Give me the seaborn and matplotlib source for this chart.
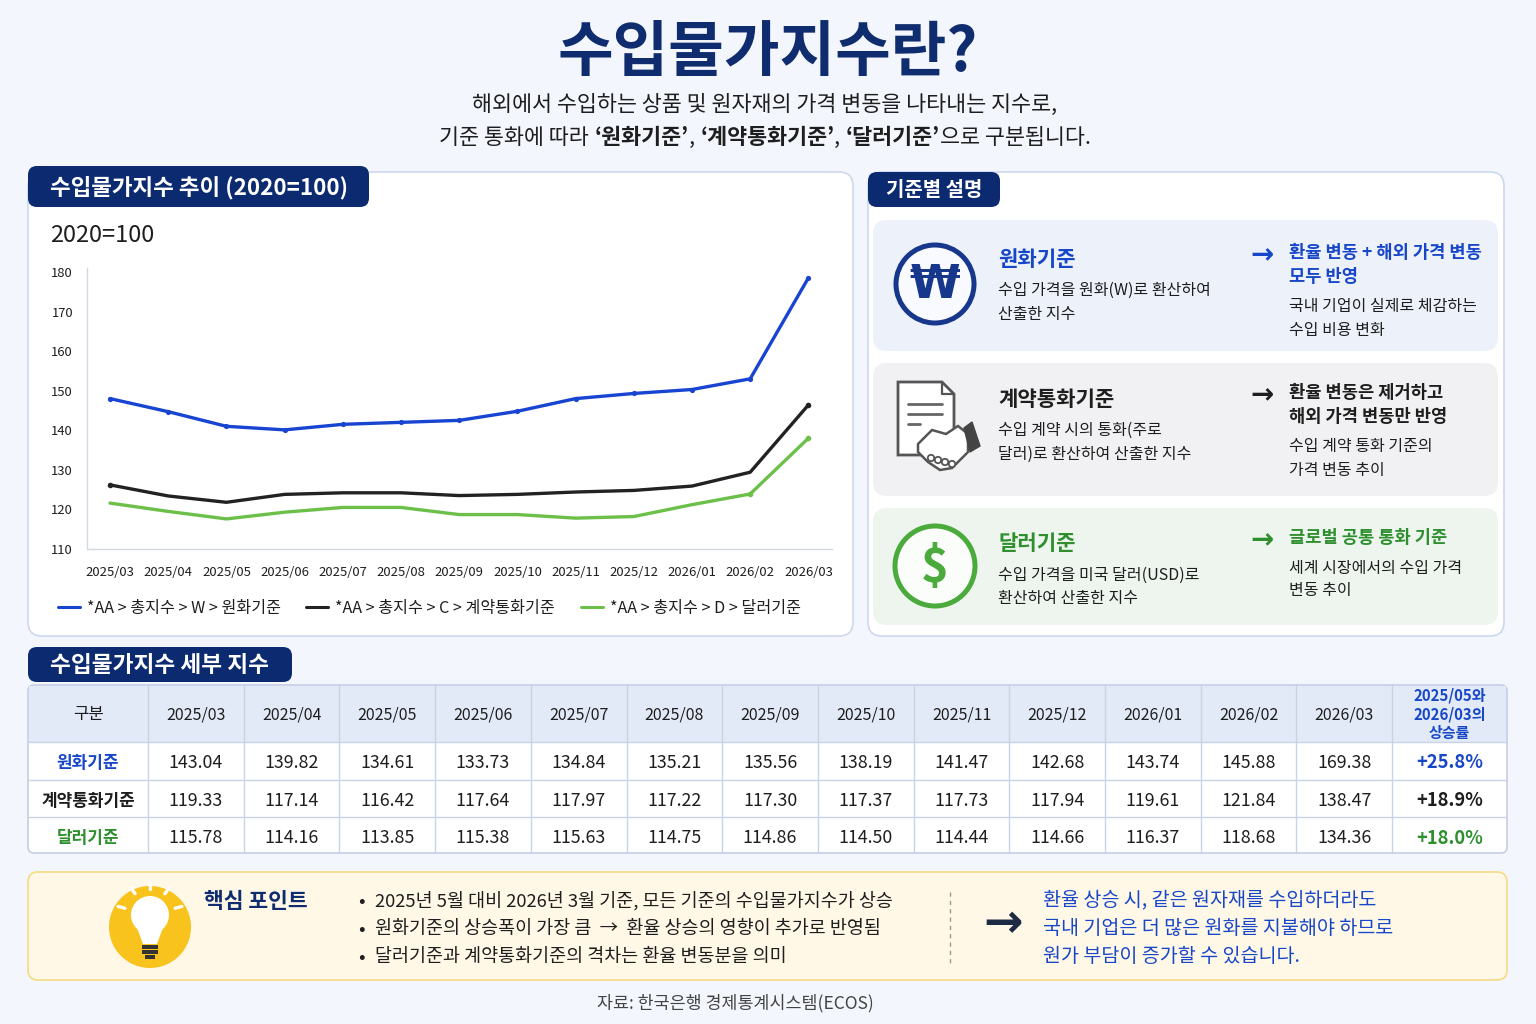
import numpy as np
import pandas as pd
import matplotlib
matplotlib.use("Agg")
import matplotlib.pyplot as plt
import seaborn as sns
from matplotlib.patches import FancyBboxPatch, Circle, Polygon, Rectangle

# ---------------- data ----------------
months = ['2025/03', '2025/04', '2025/05', '2025/06', '2025/07', '2025/08', '2025/09',
          '2025/10', '2025/11', '2025/12', '2026/01', '2026/02', '2026/03']
chart_won = [148.0, 144.7, 141.0, 140.1, 141.5, 142.0, 142.5, 144.8, 148.0, 149.3, 150.3, 153.0, 178.5]
chart_contract = [126.2, 123.4, 121.8, 123.8, 124.2, 124.2, 123.5, 123.8, 124.4, 124.8, 125.9, 129.4, 146.4]
chart_dollar = [121.6, 119.5, 117.6, 119.3, 120.5, 120.5, 118.7, 118.7, 117.8, 118.2, 121.2, 123.9, 138.0]
legend_labels = ['*AA > 총지수 > W > 원화기준', '*AA > 총지수 > C > 계약통화기준', '*AA > 총지수 > D > 달러기준']
y_ticks = [110, 120, 130, 140, 150, 160, 170, 180]

row_names = ['원화기준', '계약통화기준', '달러기준']
table_won = [143.04, 139.82, 134.61, 133.73, 134.84, 135.21, 135.56, 138.19, 141.47, 142.68, 143.74, 145.88, 169.38]
table_contract = [119.33, 117.14, 116.42, 117.64, 117.97, 117.22, 117.30, 117.37, 117.73, 117.94, 119.61, 121.84, 138.47]
table_dollar = [115.78, 114.16, 113.85, 115.38, 115.63, 114.75, 114.86, 114.50, 114.44, 114.66, 116.37, 118.68, 134.36]
changes = ['+25.8%', '+18.9%', '+18.0%']

# ---------------- style ----------------
sns.set_theme(style="white")
plt.rcParams['font.family'] = ['Noto Sans CJK KR', 'DejaVu Sans']
plt.rcParams['axes.unicode_minus'] = False

NAVY = '#0f2c6e'
TAB = '#0b2a70'
BLUE = '#1747c8'
LINE_BLUE = '#1744d0'
GREEN = '#2f8f2f'
ICON_GREEN = '#4aaa3c'
LINE_GREEN = '#6cc04a'
DARK = '#1e1e1e'
BORDER = '#cdd8ef'

W, H = 1536, 1024
fig = plt.figure(figsize=(W / 100, H / 100), dpi=100)
fig.patch.set_facecolor('#f3f6fc')
bg = fig.add_axes([0, 0, 1, 1])
bg.set_xlim(0, W)
bg.set_ylim(H, 0)
bg.axis('off')

YOFF = 2


def T(x, y, s, size, color=DARK, weight='normal', ha='left', va='center', **kw):
    return bg.text(x, y + YOFF, s, fontsize=size, color=color, fontweight=weight, ha=ha, va=va, **kw)


def rbox(x0, y0, x1, y1, fc, ec='none', lw=1.0, r=12, z=1):
    p = FancyBboxPatch((x0, y0), x1 - x0, y1 - y0, boxstyle=f"round,pad=0,rounding_size={r}",
                       fc=fc, ec=ec, lw=lw, zorder=z)
    bg.add_patch(p)
    return p


renderer = fig.canvas.get_renderer()


def rich(segments, cx, y, size, color=DARK):
    arts, widths = [], []
    for s, w in segments:
        if s == ' ':
            arts.append(None)
            widths.append(size * 100 / 72 * 0.26)
            continue
        t = T(0, y, s, size, color=color, weight=w)
        widths.append(t.get_window_extent(renderer=renderer).width)
        arts.append(t)
    x = cx - sum(widths) / 2
    for t, wd in zip(arts, widths):
        if t is not None:
            t.set_x(x)
        x += wd


# ---------------- title ----------------
T(768, 51, '수입물가지수란?', 43.5, color=NAVY, weight='bold', ha='center')
T(765, 103, '해외에서 수입하는 상품 및 원자재의 가격 변동을 나타내는 지수로,', 15.7, ha='center')
rich([('기준 통화에 따라', 'normal'), (' ', ''), ('‘원화기준’', 'bold'), (',', 'normal'), (' ', ''),
      ('‘계약통화기준’', 'bold'), (',', 'normal'), (' ', ''), ('‘달러기준’', 'bold'),
      ('으로 구분됩니다.', 'normal')], 765, 136, 15.7)

# ---------------- left panel ----------------
rbox(28, 172, 853, 636, 'white', BORDER, 1.2, r=14)
rbox(28, 166, 369, 207, TAB, r=9, z=2)
T(50, 186, '수입물가지수 추이 (2020=100)', 16.2, color='white', weight='bold', zorder=3)
T(50, 234, '2020=100', 17, color=DARK)

ax_l, ax_r, ax_t, ax_b = 87, 832, 268, 549
ax = fig.add_axes([ax_l / W, 1 - ax_b / H, (ax_r - ax_l) / W, (ax_b - ax_t) / H])
ax.patch.set_alpha(0)
idx = np.arange(len(months))
df = pd.DataFrame({
    'idx': np.tile(idx, 3),
    'value': chart_won + chart_contract + chart_dollar,
    'series': np.repeat(legend_labels, len(months)),
})
palette = {legend_labels[0]: LINE_BLUE, legend_labels[1]: '#222222', legend_labels[2]: LINE_GREEN}
sns.lineplot(data=df, x='idx', y='value', hue='series', palette=palette, linewidth=2.4,
             legend=False, ax=ax)
sns.scatterplot(x=idx, y=chart_won, color=LINE_BLUE, s=14, linewidth=0, ax=ax, zorder=5)
sns.scatterplot(x=[idx[0], idx[-1]], y=[chart_contract[0], chart_contract[-1]], color='#222222', s=16,
                linewidth=0, ax=ax, zorder=5)
sns.scatterplot(x=[idx[-2], idx[-1]], y=[chart_dollar[-2], chart_dollar[-1]], color=LINE_GREEN, s=16,
                linewidth=0, ax=ax, zorder=5)
ax.set_xlim(-(110 - ax_l) / 58.2, (ax_r - 110) / 58.2)
ax.set_ylim(110, 181)
ax.set_yticks(y_ticks)
ax.set_yticklabels([str(v) for v in y_ticks], fontsize=9.4, color=DARK)
ax.set_xticks(idx)
ax.set_xticklabels(months, fontsize=9.4, color=DARK)
ax.tick_params(axis='y', length=0, pad=10)
ax.tick_params(axis='x', length=0, pad=12)
ax.set_xlabel('')
ax.set_ylabel('')
for s in ['top', 'right']:
    ax.spines[s].set_visible(False)
for s in ['left', 'bottom']:
    ax.spines[s].set_color('#d3d8e2')
    ax.spines[s].set_linewidth(1.0)
ax.grid(False)

leg_x = [58, 306, 581]
for x0, lab, col in zip(leg_x, legend_labels, [LINE_BLUE, '#222222', LINE_GREEN]):
    bg.plot([x0, x0 + 22], [607, 607], color=col, lw=2.2)
    T(x0 + 29, 607, lab, 11.6, color=DARK)

# ---------------- right panel ----------------
rbox(868, 172, 1504, 636, 'white', BORDER, 1.2, r=14)
rbox(868, 172, 1000, 207, TAB, r=9, z=2)
T(886, 188, '기준별 설명', 14.4, color='white', weight='bold', zorder=3)

cards = [
    dict(y0=220, y1=351, fc='#edf1fa', title='원화기준', tcol=BLUE,
         desc=['수입 가격을 원화(W)로 환산하여', '산출한 지수'],
         rt=['환율 변동 + 해외 가격 변동', '모두 반영'], rcol=BLUE,
         rd=['국내 기업이 실제로 체감하는', '수입 비용 변화']),
    dict(y0=363, y1=496, fc='#f1f1f3', title='계약통화기준', tcol=DARK,
         desc=['수입 계약 시의 통화(주로', '달러)로 환산하여 산출한 지수'],
         rt=['환율 변동은 제거하고', '해외 가격 변동만 반영'], rcol=DARK,
         rd=['수입 계약 통화 기준의', '가격 변동 추이']),
    dict(y0=508, y1=625, fc='#eef5ef', title='달러기준', tcol=GREEN,
         desc=['수입 가격을 미국 달러(USD)로', '환산하여 산출한 지수'],
         rt=['글로벌 공통 통화 기준'], rcol=GREEN,
         rd=['세계 시장에서의 수입 가격', '변동 추이']),
]
title_y = [257, 397, 542]
for c, ty in zip(cards, title_y):
    rbox(873, c['y0'], 1498, c['y1'], c['fc'], r=14)
    T(998, ty, c['title'], 15.2, color=c['tcol'], weight='bold')
    for k, line in enumerate(c['desc']):
        T(998, ty + 31 + 24 * k, line, 11.5, color=DARK)
    T(1262, ty - 4, '→', 20, color=c['rcol'], weight='bold', ha='center', family=['DejaVu Sans'])
    ry = ty - 6
    for k, line in enumerate(c['rt']):
        T(1289, ry + 24 * k, line, 12.7, color=c['rcol'], weight='bold')
    dy = ry + 24 * (len(c['rt']) - 1) + 30
    for k, line in enumerate(c['rd']):
        T(1289, dy + 23 * k, line, 11.5, color=DARK)

# icon 1 : won
bg.add_patch(Circle((935, 284), 39, fc='#f8faff', ec='#16378c', lw=3.6, zorder=3))
T(935, 284, '₩', 33, color='#16378c', weight='bold', ha='center', zorder=4, family=['DejaVu Sans'])
# icon 2 : document + handshake
doc = Polygon([(898, 382), (942, 382), (954, 394), (954, 455), (898, 455)], closed=True,
              fc='white', ec='#555555', lw=2.0, zorder=3)
bg.add_patch(doc)
bg.plot([942, 942, 954], [382, 394, 394], color='#555555', lw=1.6, zorder=4)
for yy, x1 in [(404, 942), (414, 942), (424, 920)]:
    bg.plot([908, x1], [yy, yy], color='#666666', lw=2.0, zorder=4)
hand = Polygon([(918, 444), (932, 430), (946, 434), (958, 426), (968, 434), (968, 452),
                (952, 468), (940, 470), (928, 462), (918, 452)], closed=True,
               fc='white', ec='#555555', lw=1.8, zorder=5)
bg.add_patch(hand)
bg.add_patch(Polygon([(964, 428), (972, 422), (980, 446), (970, 452)], closed=True,
                     fc='#444444', ec='#444444', lw=1, zorder=6))
for k in range(4):
    bg.add_patch(Circle((931 + 7 * k, 458 + 2 * k), 3.2, fc='white', ec='#555555', lw=1.3, zorder=6))
# icon 3 : dollar
bg.add_patch(Circle((935, 566), 40, fc='#fbfdfb', ec=ICON_GREEN, lw=3.6, zorder=3))
T(935, 566, '$', 34, color=ICON_GREEN, weight='bold', ha='center', zorder=4)

# ---------------- table ----------------
rbox(28, 647, 292, 682, TAB, r=9, z=2)
T(50, 663, '수입물가지수 세부 지수', 16.3, color='white', weight='bold', zorder=3)

tx0, tx1 = 28, 1507
ty0, th1, tr1, tr2, ty1 = 685, 742, 780, 817, 853
rbox(tx0, ty0, tx1, ty1, 'white', '#c3cee4', 1.2, r=6, z=1)
bg.add_patch(Rectangle((tx0 + 1, ty0 + 1), tx1 - tx0 - 2, th1 - ty0 - 1, fc='#e3eaf7', ec='none', zorder=1.5))
col_edges = [28, 148] + [148 + 95.7 * (i + 1) for i in range(13)] + [1507]
for xe in col_edges[1:-1]:
    bg.plot([xe, xe], [ty0, ty1], color='#c9d3e6', lw=1.0, zorder=2)
for ye in [th1, tr1, tr2]:
    bg.plot([tx0, tx1], [ye, ye], color='#c9d3e6', lw=1.0, zorder=2)
centers = [(col_edges[i] + col_edges[i + 1]) / 2 for i in range(len(col_edges) - 1)]

T(centers[0], 713, '구분', 12, ha='center', zorder=3)
for i, m in enumerate(months):
    T(centers[i + 1], 713, m, 11.5, ha='center', zorder=3)
T(centers[-1], 712, '2025/05와\n2026/03의\n상승률', 10.8, color=BLUE, weight='bold', ha='center',
  linespacing=1.2, zorder=3)

row_y = [761, 799, 836]
row_cols = [BLUE, DARK, GREEN]
for ry, name, vals, ch, col in zip(row_y, row_names, [table_won, table_contract, table_dollar], changes, row_cols):
    T(centers[0], ry, name, 12.2, color=col, weight='bold', ha='center', zorder=3)
    for i, v in enumerate(vals):
        T(centers[i + 1], ry, f"{v:.2f}", 12.8, ha='center', zorder=3)
    T(centers[-1], ry, ch, 13.2, color=col, weight='bold', ha='center', zorder=3)

# ---------------- key point box ----------------
rbox(28, 872, 1507, 980, '#fff8e7', '#f6dc8c', 1.3, r=10)
bg.add_patch(Circle((150, 927), 41, fc='#f7c31c', ec='none', zorder=3))
bg.add_patch(Circle((150, 915), 19, fc='white', ec='none', zorder=4))
bg.add_patch(Polygon([(135, 922), (165, 922), (157, 944), (143, 944)], closed=True, fc='white', ec='none', zorder=4))
for k, yy in enumerate([947, 952, 957]):
    w = 8 if k < 2 else 5
    bg.add_patch(Rectangle((150 - w, yy - 1.6), 2 * w, 3.2, fc='#333333', ec='none', zorder=5))
for ang in [90, 55, 125, 15, 165]:
    a = np.deg2rad(ang)
    r0, r1 = 26, 33
    bg.plot([150 + r0 * np.cos(a), 150 + r1 * np.cos(a)], [915 - r0 * np.sin(a), 915 - r1 * np.sin(a)],
            color='white', lw=2.4, solid_capstyle='round', zorder=4)

T(204, 899, '핵심 포인트', 15.5, color=NAVY, weight='bold')
bullets = ['2025년 5월 대비 2026년 3월 기준, 모든 기준의 수입물가지수가 상승',
           '원화기준의 상승폭이 가장 큼  →  환율 상승의 영향이 추가로 반영됨',
           '달러기준과 계약통화기준의 격차는 환율 변동분을 의미']
for k, b in enumerate(bullets):
    T(358, 899 + 28 * k, '•', 14, color=DARK)
    T(375, 899 + 28 * k, b, 13.3, color=DARK)
bg.plot([950, 950], [892, 964], color='#9a9a9a', lw=1.0, ls=(0, (3, 3)))
T(1003, 923, '→', 34, color='#1d2a44', weight='bold', ha='center', family=['DejaVu Sans'])
msgs = ['환율 상승 시, 같은 원자재를 수입하더라도', '국내 기업은 더 많은 원화를 지불해야 하므로',
        '원가 부담이 증가할 수 있습니다.']
for k, m in enumerate(msgs):
    T(1043, 898 + 28 * k, m, 14.1, color=BLUE)

T(735, 1001, '자료: 한국은행 경제통계시스템(ECOS)', 12.5, color='#444444', ha='center')

fig.savefig('out.png', dpi=100, facecolor=fig.get_facecolor())
